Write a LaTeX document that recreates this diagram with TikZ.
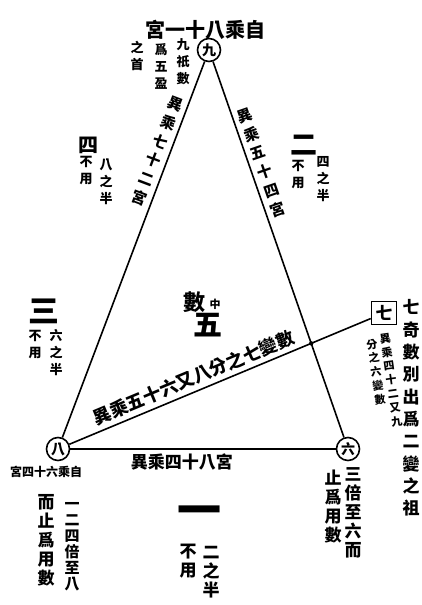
\documentclass[tikz,border=0pt]{standalone}
\usepackage{fontspec}
\newfontfamily\cjk{Noto Sans CJK TC}
\usetikzlibrary{positioning}
\tikzstyle{nd}=[circle,draw=black,line width=1.6pt,minimum size=23pt,inner sep=0pt,font=\cjk\bfseries\fontsize{14}{14}\selectfont]
\tikzstyle{bx}=[rectangle,draw=black,line width=1.6pt,minimum width=25pt,minimum height=23pt,inner sep=0pt,font=\cjk\bfseries\fontsize{17}{17}\selectfont]
\tikzstyle{vc}=[align=center,inner sep=0pt,font=\cjk\bfseries\fontsize{13}{17}\selectfont]
\tikzstyle{vs}=[align=center,inner sep=0pt,font=\cjk\bfseries\fontsize{11}{14}\selectfont]
\tikzstyle{vb}=[align=center,inner sep=0pt,font=\cjk\bfseries\fontsize{17}{19}\selectfont]
\tikzstyle{lb}=[inner sep=0pt,outer sep=5pt,font=\cjk\bfseries\fontsize{15}{20}\selectfont]
\tikzstyle{ln}=[line width=1.6pt]

\begin{document}
\begin{tikzpicture}[x=1pt,y=-1pt]
\useasboundingbox (0,0) rectangle (422,605);
\node[nd] (nine) at (209,50) {九};
\node[nd] (eight) at (58,449) {八};
\node[nd] (six) at (348,449) {六};
\node[bx] (seven) at (384,313) {七};
\draw[ln] (nine) -- (eight) node[lb,align=center,pos=.25,rotate=-20.7,anchor=east] (e98) {異\\乘\\七\\十\\二\\宮};
\draw[ln] (nine) -- (six) node[lb,align=center,pos=.28,rotate=19.1,anchor=west] (e96) {異\\乘\\五\\十\\四\\宮};
\draw[ln] (eight) -- (six) node[lb,font=\cjk\bfseries\fontsize{17}{17}\selectfont,pos=.42,anchor=north] (e86) {異乘四十八宮};
\draw[ln] (eight) -- (seven) node[lb,font=\cjk\bfseries\fontsize{18}{18}\selectfont,pos=.43,sloped,anchor=south] (e87) {異乘五十六又八分之七變數};
\fill (intersection of nine--six and eight--seven) circle[radius=2.2pt];
\node[inner sep=0pt,font=\cjk\bfseries\fontsize{20}{20}\selectfont] (t9) at (205,30) {宮一十八乘自};
\node[vc] (c9a) at (183,62) {九\\祇\\數};
\node[vc] (c9b) at (161,66) {爲\\五\\盈};
\node[vc] (c9c) at (137,56) {之\\首};
\node[inner sep=0pt,font=\cjk\bfseries\fontsize{20}{20}\selectfont] (n4) at (88,145) {四};
\node[vc] (n4a) at (86,171) {不\\用};
\node[vc] (n4b) at (106,182) {八\\之\\半};
\node[inner sep=0pt,font=\cjk\bfseries\fontsize{27}{27}\selectfont] (n2) at (304,145) {二};
\node[vc] (n2a) at (298,175) {不\\用};
\node[vc] (n2b) at (323,179) {四\\之\\半};
\node[inner sep=0pt,font=\cjk\bfseries\fontsize{31}{31}\selectfont] (n3) at (44,311) {三};
\node[vc] (n3a) at (35,345) {不\\用};
\node[vc] (n3b) at (56,353) {六\\之\\半};
\node[inner sep=0pt,font=\cjk\bfseries\fontsize{22}{22}\selectfont] (n5a) at (194,302) {數};
\node[inner sep=0pt,font=\cjk\bfseries\fontsize{11}{11}\selectfont] (n5b) at (215,304) {中};
\node[inner sep=0pt,font=\cjk\bfseries\fontsize{29}{29}\selectfont] (n5) at (208,325) {五};
\node[inner sep=0pt,font=\cjk\bfseries\fontsize{44}{44}\selectfont] (n1) at (199,516) {一};
\node[vb] (n1a) at (188,561) {不\\用};
\node[vb] (n1b) at (211,572) {二\\之\\半};
\node[inner sep=0pt,font=\cjk\bfseries\fontsize{12}{12}\selectfont] (t8) at (46,472) {宮四十六乘自};
\node[vb,font=\cjk\bfseries\fontsize{15}{16}\selectfont] (c8a) at (72,547) {一\\二\\四\\倍\\至\\八};
\node[vb] (c8b) at (46,540) {而\\止\\爲\\用\\數};
\node[vb] (c6a) at (353,513) {三\\倍\\至\\六\\而};
\node[vb] (c6b) at (333,507) {止\\爲\\用\\數};
\node[align=center,inner sep=0pt,font=\cjk\bfseries\fontsize{17}{22.3}\selectfont] (c7) at (411,408) {七\\奇\\數\\別\\出\\爲\\二\\變\\之\\祖};
\node[vs,rotate=8] (c7a) at (391,380) {異\\乘\\四\\十\\二\\又\\九};
\node[vs,rotate=8] (c7b) at (376,372) {分\\之\\六\\變\\數};
\end{tikzpicture}
\end{document}
